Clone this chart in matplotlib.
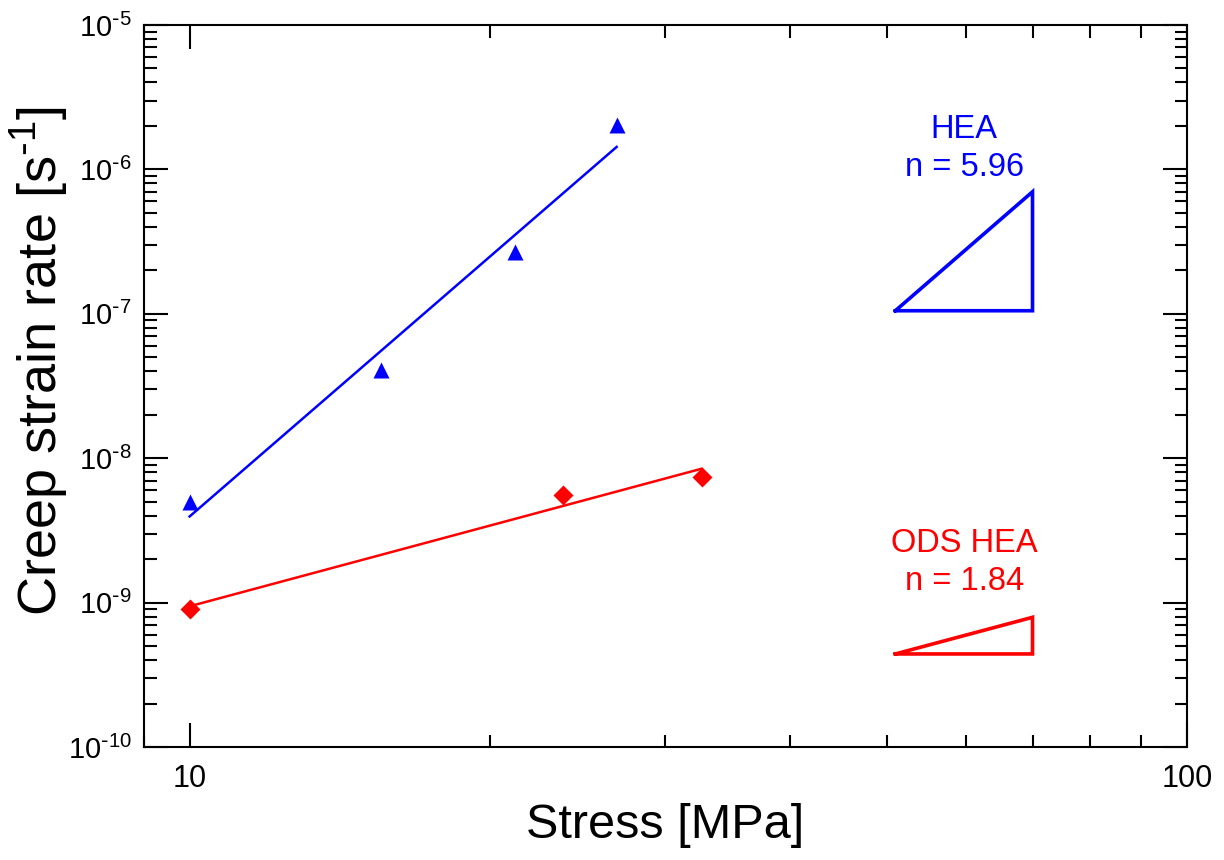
import numpy as np
import matplotlib
matplotlib.use('Agg')
import matplotlib.pyplot as plt
from matplotlib.ticker import LogLocator, NullFormatter

plt.rcParams['font.family'] = ['Liberation Sans', 'DejaVu Sans']
plt.rcParams['mathtext.default'] = 'regular'

# creep data
hea_stress = [10.0, 15.56, 21.2, 26.8]
hea_rate = [5.0e-9, 4.08e-8, 2.67e-7, 2.03e-6]
ods_stress = [10.0, 23.7, 32.6]
ods_rate = [9.0e-10, 5.56e-9, 7.45e-9]

# slope triangles (corners)
hea_tri_x = [51, 70, 70, 51]
hea_tri_y = [1.05e-7, 1.05e-7, 7.0e-7, 1.05e-7]
ods_tri_x = [51, 70, 70, 51]
ods_tri_y = [4.41e-10, 4.41e-10, 7.91e-10, 4.41e-10]

hea_label = 'HEA\nn = 5.96'
ods_label = 'ODS HEA\nn = 1.84'

x_ticks = [10, 100]
x_ticklabels = ['10', '100']
y_ticks = [1e-10, 1e-9, 1e-8, 1e-7, 1e-6, 1e-5]
y_ticklabels = [r'$\mathregular{10^{\text{-}10}}$', r'$\mathregular{10^{\text{-}9}}$',
                r'$\mathregular{10^{\text{-}8}}$', r'$\mathregular{10^{\text{-}7}}$',
                r'$\mathregular{10^{\text{-}6}}$', r'$\mathregular{10^{\text{-}5}}$']


def power_fit(x, y):
    """Least squares fit in log-log space, line over the data range."""
    lx, ly = np.log10(x), np.log10(y)
    k, b = np.polyfit(lx, ly, 1)
    xs = np.array([min(x), max(x)])
    return xs, 10 ** (k * np.log10(xs) + b)


fig = plt.figure(figsize=(12.24, 8.6), dpi=100)
ax = fig.add_axes([144 / 1224, 1 - 747 / 860, 1043 / 1224, 722 / 860])
ax.set_xscale('log')
ax.set_yscale('log')

fx, fy = power_fit(hea_stress, hea_rate)
ax.plot(fx, fy, color='blue', lw=1.8)
ax.plot(hea_stress, hea_rate, '^', color='blue', ms=12, mec='none')

fx, fy = power_fit(ods_stress, ods_rate)
ax.plot(fx, fy, color='red', lw=1.8)
ax.plot(ods_stress, ods_rate, 'D', color='red', ms=10.5, mec='none')

ax.plot(hea_tri_x, hea_tri_y, color='blue', lw=2.6, solid_joinstyle='miter')
ax.plot(ods_tri_x, ods_tri_y, color='red', lw=2.6, solid_joinstyle='miter')

ax.text(59.8, 1.39e-6, hea_label, color='blue', fontsize=23.5, ha='center', va='center',
        linespacing=1.3)
ax.text(59.8, 1.9e-9, ods_label, color='red', fontsize=23.5, ha='center', va='center',
        linespacing=1.3)

ax.set_xlim(9.0, 100)
ax.set_ylim(1e-10, 1e-5)

ax.set_xticks(x_ticks)
ax.set_xticklabels(x_ticklabels)
ax.xaxis.set_minor_locator(LogLocator(base=10, subs=np.arange(2, 10)))
ax.xaxis.set_minor_formatter(NullFormatter())
ax.set_yticks(y_ticks)
ax.set_yticklabels(y_ticklabels)
ax.yaxis.set_minor_locator(LogLocator(base=10, subs=np.arange(2, 10), numticks=20))
ax.yaxis.set_minor_formatter(NullFormatter())

ax.tick_params(which='both', direction='in', top=True, right=True, width=1.5)
ax.tick_params(which='major', length=17)
ax.tick_params(axis='y', which='major', pad=9, labelsize=21)
ax.tick_params(axis='x', which='major', pad=12, labelsize=22)
ax.tick_params(which='minor', length=9)
for s in ax.spines.values():
    s.set_linewidth(1.5)

ax.set_xlabel('Stress [MPa]', fontsize=35)
ax.set_ylabel(r'Creep strain rate [s$\mathregular{^{\text{-}1}}$]', fontsize=39)
ax.xaxis.set_label_coords(0.5, -0.078)
ax.yaxis.set_label_coords(-0.07, 0.535)

plt.savefig('out.png', dpi=100)
plt.close()
